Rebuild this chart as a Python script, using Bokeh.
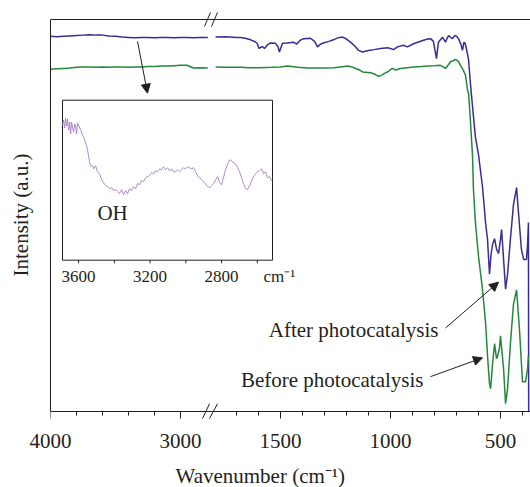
from bokeh.plotting import figure
from bokeh.models import (Range1d, LinearAxis, FixedTicker, CustomJSTransform, Arrow,
                          NormalHead, Label, Title, ColumnDataSource)
from bokeh.transform import transform
from bokeh.core.properties import value
from bokeh.embed import file_html
from bokeh.resources import INLINE

# ---------------- data ----------------
# After photocatalysis (blue), high-wavenumber segment
blue_left_w = [4000, 3950, 3900, 3850, 3800, 3750, 3700, 3650, 3600, 3550, 3500, 3450,
               3400, 3350, 3300, 3250, 3200, 3150, 3100, 3050, 3000, 2950, 2900, 2850, 2790]
blue_left_i = [95.7, 95.6, 95.7, 95.8, 95.9, 96.0, 96.1, 96.0, 96.0, 95.8, 95.7, 95.5,
               95.4, 95.3, 95.4, 95.4, 95.3, 95.4, 95.4, 95.3, 95.4, 95.4, 95.3, 95.4, 95.4]
# After photocatalysis (blue), fingerprint segment
blue_right_w = [1795, 1750, 1700, 1682, 1660, 1636, 1615, 1605, 1598, 1582, 1573, 1560, 1545,
                1523, 1512, 1505, 1491, 1470, 1441, 1427, 1410, 1395, 1364, 1345, 1332, 1318,
                1305, 1280, 1259, 1240, 1218, 1200, 1182, 1160, 1145, 1127, 1100, 1075, 1045,
                1014, 1000, 986, 968, 941, 923, 895, 870, 850, 830, 818, 805, 791, 782, 770,
                764, 750, 743, 736, 727, 718, 711, 705, 698, 691, 680, 673, 666, 660, 652, 645,
                636, 627, 614, 600, 582, 568, 559, 550, 543, 536, 527, 518, 509, 500, 495, 486,
                477, 468, 455, 441, 427, 414, 405, 395, 382, 377, 373, 372]
blue_right_i = [95.5, 95.6, 95.4, 95.4, 95.2, 94.8, 94.3, 93.8, 92.6, 93.1, 92.6, 93.5, 94.0,
                93.9, 93.1, 91.7, 93.9, 94.0, 94.2, 93.7, 94.7, 95.1, 95.2, 94.4, 93.0, 93.7,
                94.0, 94.4, 94.8, 95.3, 95.5, 95.0, 94.2, 93.1, 92.1, 91.7, 92.1, 92.3, 92.6,
                92.8, 92.6, 92.3, 93.0, 93.4, 93.0, 93.8, 94.3, 94.7, 95.0, 95.1, 94.4, 90.0,
                94.2, 95.0, 95.5, 94.2, 95.2, 95.9, 95.4, 95.1, 95.7, 95.9, 95.6, 95.1, 93.7,
                92.1, 94.2, 93.8, 91.7, 89.6, 83.2, 77.7, 70.0, 65.5, 57.4, 48.2, 43.9, 35.0,
                40.1, 42.6, 44.1, 41.4, 40.3, 43.9, 46.4, 38.8, 31.2, 35.0, 43.9, 52.8, 57.1,
                47.7, 41.4, 38.8, 38.8, 42.6, 48.2, 0.0]
# Before photocatalysis (green)
green_left_w = [4000, 3950, 3900, 3850, 3800, 3750, 3700, 3650, 3600, 3550, 3500, 3450,
                3400, 3350, 3300, 3250, 3200, 3150, 3100, 3050, 3000, 2950, 2900, 2850, 2790]
green_left_i = [87.3, 87.4, 87.5, 87.6, 87.8, 87.9, 87.9, 87.8, 87.9, 87.8, 87.9, 87.9,
                87.8, 87.9, 87.9, 88.0, 88.0, 88.1, 88.1, 88.2, 88.3, 88.3, 87.6, 87.7, 87.6]
green_right_w = [1795, 1750, 1682, 1640, 1591, 1540, 1500, 1468, 1420, 1377, 1340, 1305, 1260,
                 1227, 1195, 1170, 1159, 1140, 1127, 1091, 1070, 1055, 1040, 1025, 1014, 1000,
                 991, 977, 955, 925, 895, 860, 832, 800, 773, 760, 750, 736, 727, 718, 705, 691,
                 680, 673, 659, 650, 645, 636, 627, 623, 614, 600, 582, 568, 559, 550, 545, 536,
                 527, 518, 514, 505, 500, 486, 477, 468, 455, 441, 427, 414, 400, 386, 377, 373]
green_right_i = [87.9, 87.8, 87.8, 87.7, 87.7, 87.8, 87.9, 88.1, 87.8, 87.6, 87.6, 87.6, 87.7,
                 87.9, 88.1, 87.8, 87.5, 87.1, 86.6, 86.4, 86.0, 85.5, 85.8, 86.3, 86.6, 87.2,
                 87.5, 87.1, 87.5, 87.7, 87.9, 88.0, 88.1, 88.2, 88.3, 87.9, 87.5, 88.5, 89.2,
                 89.4, 89.8, 89.3, 88.1, 87.5, 85.8, 82.0, 81.2, 73.6, 65.0, 56.6, 48.2, 39.6,
                 31.2, 22.8, 14.2, 7.1, 5.8, 12.2, 17.3, 13.5, 14.0, 16.0, 19.3, 10.9, 2.0, 5.8,
                 17.3, 27.4, 31.0, 21.1, 7.6, 7.6, 10.9, 14.2]
# Inset: OH region of the after-photocatalysis spectrum
inset_w = [3690, 3684, 3678, 3673, 3667, 3662, 3656, 3650, 3645, 3639, 3634, 3628, 3622, 3617,
           3611, 3606, 3600, 3589, 3578, 3566, 3555, 3550, 3544, 3539, 3533, 3522, 3516, 3505,
           3494, 3483, 3471, 3460, 3449, 3438, 3427, 3415, 3404, 3393, 3382, 3371, 3359, 3348,
           3337, 3326, 3315, 3304, 3292, 3281, 3270, 3259, 3248, 3236, 3225, 3214, 3203, 3192,
           3180, 3169, 3158, 3147, 3136, 3125, 3113, 3102, 3091, 3080, 3069, 3057, 3046, 3035,
           3024, 3013, 3001, 2990, 2979, 2968, 2957, 2945, 2934, 2923, 2912, 2901, 2890, 2878,
           2867, 2856, 2845, 2834, 2822, 2811, 2800, 2789, 2778, 2766, 2755, 2744, 2733, 2722,
           2710, 2699, 2688, 2677, 2666, 2655, 2643, 2632, 2621, 2610, 2599, 2587, 2576, 2565,
           2554, 2543, 2531, 2520, 2515]
inset_i = [84.5, 87.6, 82.6, 88.8, 83.9, 88.2, 81.4, 86.3, 78.9, 86.3, 83.2, 80.1, 85.1, 83.9,
           78.9, 85.7, 84.5, 81.4, 78.3, 75.2, 71.4, 68.9, 65.2, 61.5, 59.0, 59.0, 57.1, 59.0,
           55.3, 54.0, 50.3, 48.4, 46.6, 46.0, 44.7, 45.3, 43.5, 44.1, 42.9, 41.6, 44.1, 41.0,
           43.5, 41.6, 44.7, 43.5, 46.0, 44.7, 47.8, 47.2, 49.7, 49.1, 51.6, 52.2, 52.8, 54.7,
           54.0, 55.9, 55.3, 57.1, 56.5, 58.4, 56.5, 57.8, 55.9, 57.1, 55.3, 55.3, 56.5, 55.3,
           56.5, 57.8, 57.1, 58.4, 57.8, 57.1, 57.8, 55.3, 52.8, 51.6, 50.3, 49.1, 47.8, 46.0,
           45.3, 46.6, 47.8, 50.3, 52.2, 48.4, 47.2, 51.6, 56.5, 60.2, 62.7, 62.1, 60.9, 60.2,
           57.8, 55.3, 51.6, 47.8, 44.7, 44.1, 46.6, 49.7, 52.2, 54.0, 55.3, 55.9, 57.1, 54.0,
           55.3, 51.6, 52.2, 49.7, 50.3]

x_major = [4000, 3000, 1500, 1000, 500]
x_minor = [3800, 3600, 3400, 3200, 1700, 1600, 1400, 1300, 1200, 1100, 900, 800, 700, 600, 400]
inset_major = [3600, 3200, 2800]
inset_minor = [3400, 3000, 2600]

FONT = "Liberation Serif"
TXT = "#231f20"
BLUE = "#3b2b96"
GREEN = "#23883a"
PURPLE = "#a17fc6"


# broken wavenumber axis: 4000-2790 and 1800-364 on one frame
def brk_u(w):
    return round((4000 - w) * 0.13, 3) if w > 2300 else round(230 + (1500 - w) * 0.22, 3)


brk = CustomJSTransform(v_func="""
const out = new Array(xs.length);
for (let i = 0; i < xs.length; i++) {
  const w = xs[i];
  out[i] = w > 2300 ? (4000 - w) * 0.13 : 230 + (1500 - w) * 0.22;
}
return out;
""")

# frame is a little taller than the 0-100 box so the break marks can cross the axis lines
p = figure(width=530, height=487, x_range=Range1d(0, 480), y_range=Range1d(-2.03, 102.28),
           output_backend="svg", toolbar_location=None,
           min_border_left=50, min_border_right=0, min_border_top=10, min_border_bottom=66,
           outline_line_color=None, background_fill_color="white", border_fill_color="white")
p.grid.visible = False

ticker = FixedTicker(ticks=[brk_u(t) for t in x_major], minor_ticks=[brk_u(t) for t in x_minor])

# tick-label axis (sits just below the frame)
xb = p.below[0]
xb.ticker = ticker
xb.major_label_overrides = {brk_u(t): str(t) for t in x_major}
xb.axis_line_color = None
xb.major_tick_line_color = None
xb.minor_tick_line_color = None
xb.major_tick_out = 0
xb.major_tick_in = 0
xb.minor_tick_out = 0
xb.minor_tick_in = 0
xb.major_label_standoff = 14
xb.major_label_text_font = FONT
xb.major_label_text_font_size = "21px"
xb.major_label_text_color = TXT

# axis line + ticks at intensity 0 (its labels are not drawn)
xa = LinearAxis(fixed_location=0, ticker=ticker, major_label_text_color=None,
                major_tick_out=7, major_tick_in=0, minor_tick_out=4, minor_tick_in=0,
                axis_line_color=TXT, major_tick_line_color=TXT, minor_tick_line_color=TXT)
p.add_layout(xa, "below")

# blank spacer between the tick labels and the axis title (white tick on white, no label)
gap = LinearAxis(ticker=FixedTicker(ticks=[479]), major_tick_out=11, major_tick_in=0,
                 minor_tick_out=0, minor_tick_in=0, major_label_standoff=0,
                 axis_line_color=None, major_tick_line_color="white", minor_tick_line_color=None,
                 major_label_text_color=None)
p.add_layout(gap, "below")

ya = p.yaxis[0]
ya.bounds = (0, 100)
ya.ticker = FixedTicker(ticks=[])
ya.major_tick_out = 0
ya.major_label_standoff = 0
ya.axis_label = "Intensity (a.u.)"
ya.axis_label_text_font = FONT
ya.axis_label_text_font_size = "21px"
ya.axis_label_text_font_style = "normal"
ya.axis_label_text_color = TXT
ya.axis_label_standoff = 18
ya.axis_line_color = TXT

top = LinearAxis(ticker=FixedTicker(ticks=[]), major_tick_out=0, major_label_standoff=0,
                 major_label_text_color=None, axis_line_color=TXT, fixed_location=100)
p.add_layout(top, "above")

p.add_layout(Title(text="Wavenumber (cm⁻¹)", align="left", offset=125, text_font=FONT,
                   text_font_size="21px", text_font_style="normal", text_color=TXT,
                   standoff=0), "below")

# main spectra
for ws, iv, col in [(blue_left_w, blue_left_i, BLUE), (blue_right_w, blue_right_i, BLUE),
                    (green_left_w, green_left_i, GREEN), (green_right_w, green_right_i, GREEN)]:
    src = ColumnDataSource(dict(w=ws, i=iv))
    p.line(x=transform("w", brk), y="i", source=src, line_color=col, line_width=1.5)

# axis-break marks
for x0, y0, x1, y1 in [(152, -1.8, 159, 2.0), (159, -1.8, 167, 2.0),
                       (154, 98.2, 160, 101.8), (161, 98.2, 167, 101.8)]:
    p.add_layout(Arrow(end=None, x_start=x0, y_start=y0, x_end=x1, y_end=y1,
                       line_color=TXT, line_width=1))

# inset
inset_x = Range1d(3690, 2515)
inset_y = Range1d(0, 100)
sub = p.subplot(x_source=inset_x, y_source=inset_y,
                x_target=Range1d(12, 222), y_target=Range1d(38.6, 79.4))
sub.quad(left=[inset_x.start], right=[inset_x.end], bottom=[inset_y.start], top=[inset_y.end],
         fill_color="white", line_color=TXT, line_width=1)
sub.line(x=inset_w, y=inset_i, line_color=PURPLE, line_width=0.9)
sub.segment(x0=inset_major + inset_minor, y0=[0] * 6, x1=inset_major + inset_minor, y1=[-2] * 6,
            line_color=TXT, line_width=1)
sub.text(x=inset_major, y=[-10.5] * 3, text=[str(t) for t in inset_major], text_align="center",
         text_baseline="middle", text_font=value(FONT), text_font_size="17px", text_color=TXT)
sub.text(x=[2565], y=[-10.5], text=["cm⁻¹"], text_align="left", text_baseline="middle",
         text_font=value(FONT), text_font_size="17px", text_color=TXT)
sub.text(x=[3410], y=[29.8], text=["OH"], text_align="center", text_baseline="middle",
         text_font=value(FONT), text_font_size="21px", text_color=TXT)

# annotations
for xs, ys, xe, ye in [(87, 94.4, 97, 81.2), (395, 21.3, 448, 33.0), (380, 8.9, 432, 13.7)]:
    p.add_layout(Arrow(end=NormalHead(size=9, fill_color=TXT, line_color=TXT, line_width=1),
                       x_start=xs, y_start=ys, x_end=xe, y_end=ye, line_color=TXT, line_width=1))

p.add_layout(Label(x=388, y=20.8, text="After photocatalysis", text_align="right",
                   text_baseline="middle", text_font=FONT, text_font_size="21px", text_color=TXT))
p.add_layout(Label(x=373, y=8.1, text="Before photocatalysis", text_align="right",
                   text_baseline="middle", text_font=FONT, text_font_size="21px", text_color=TXT))

open("out.html", "w").write(file_html(p, INLINE))
